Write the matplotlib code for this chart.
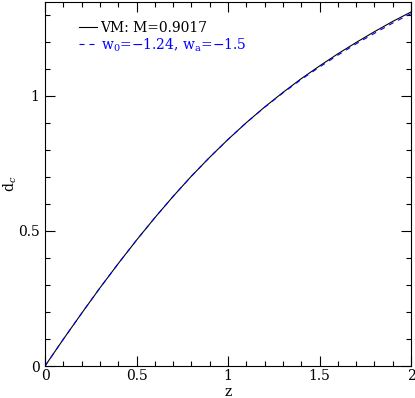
import numpy as np
import matplotlib
matplotlib.use('Agg')
import matplotlib.pyplot as plt
from matplotlib.ticker import MultipleLocator

# redshift grid and comoving distance
z = [0.0, 0.1, 0.2, 0.3, 0.4, 0.5, 0.6, 0.7, 0.8, 0.9, 1.0,
     1.1, 1.2, 1.3, 1.4, 1.5, 1.6, 1.7, 1.8, 1.9, 2.0]
dc_vm = [0.0, 0.099, 0.195, 0.289, 0.379, 0.466, 0.549, 0.628, 0.703, 0.773, 0.839,
         0.901, 0.959, 1.013, 1.064, 1.111, 1.156, 1.198, 1.238, 1.276, 1.311]
dc_w0wa = [0.0, 0.099, 0.195, 0.289, 0.379, 0.466, 0.549, 0.628, 0.703, 0.773, 0.839,
           0.901, 0.958, 1.011, 1.061, 1.107, 1.151, 1.193, 1.232, 1.270, 1.305]

label_vm = 'VM: M=0.9017'
label_w0wa = 'w$_0$=\u22121.24, w$_\\mathrm{a}$=\u22121.5'

plt.rcParams['font.family'] = ['DejaVu Serif']
plt.rcParams['mathtext.fontset'] = 'dejavuserif'
plt.rcParams['font.size'] = 10

fig = plt.figure(figsize=(4.15, 3.98), dpi=100)
ax = fig.add_axes([45 / 415, 32 / 398, 366 / 415, 364 / 398])

ax.plot(z, dc_vm, color='black', lw=0.8, label=label_vm)
ax.plot(z, dc_w0wa, color='blue', lw=0.8, dashes=(4.5, 4.5), label=label_w0wa)

ax.set_xlim(0, 2)
ax.set_ylim(0, 1.348)
ax.xaxis.set_major_locator(MultipleLocator(0.5))
ax.xaxis.set_minor_locator(MultipleLocator(0.1))
ax.yaxis.set_major_locator(MultipleLocator(0.5))
ax.yaxis.set_minor_locator(MultipleLocator(0.1))
ax.xaxis.set_major_formatter(plt.FuncFormatter(lambda v, p: '%g' % v))
ax.yaxis.set_major_formatter(plt.FuncFormatter(lambda v, p: '%g' % v))
ax.tick_params(which='both', direction='in', top=True, right=True, width=0.8)
ax.tick_params(which='major', length=7.2, pad=4)
ax.tick_params(axis='x', which='major', pad=2.5)
ax.tick_params(which='minor', length=3.6)
for sp in ax.spines.values():
    sp.set_linewidth(0.8)

ax.set_xlabel('z')
ax.set_ylabel('d$_c$')
ax.xaxis.set_label_coords(0.5, -0.053)
ax.yaxis.set_label_coords(-0.07, 0.5)

leg = ax.legend(loc='upper left', bbox_to_anchor=(0.093, 0.948), frameon=False,
                borderpad=0, borderaxespad=0, handlelength=1.3, handletextpad=0.25,
                labelspacing=0.1, labelcolor='linecolor')

fig.savefig('out.png', dpi=100)
